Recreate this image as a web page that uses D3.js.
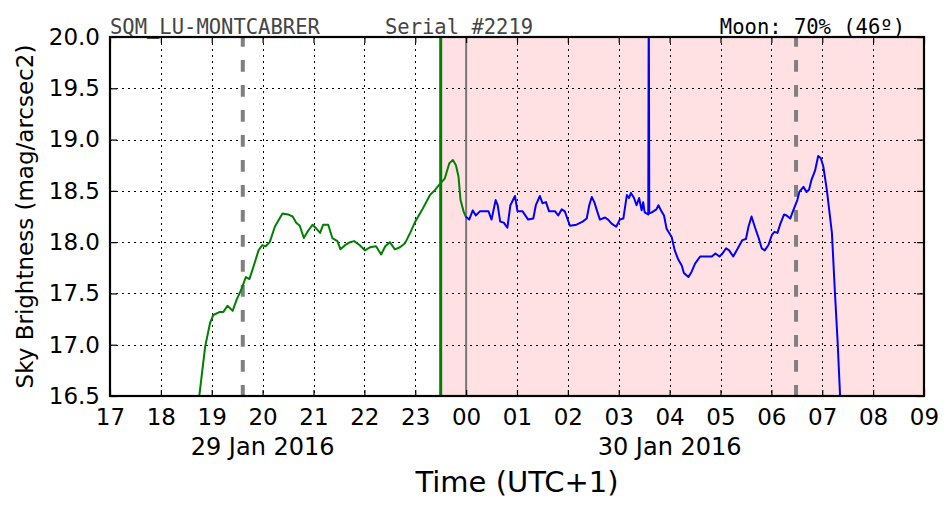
<!DOCTYPE html>
<html>
<head>
<meta charset="utf-8">
<script src="https://cdn.jsdelivr.net/npm/d3@7"></script>
<style>
  html, body { margin: 0; padding: 0; background: #fff; }
  svg { display: block; }
</style>
</head>
<body>
<svg id="chart" width="952" height="512"></svg>
<script>
// ---- Data (hours since 29 Jan 2016 00:00, UTC+1 local time) ----
const greenTimes = [18.70,18.755,18.87,18.966,19.03,19.16,19.23,19.31,19.41,19.49,19.59,19.67,19.74,19.82,19.92,19.99,20.06,20.14,20.24,20.39,20.50,20.59,20.66,20.73,20.81,20.88,20.98,21.06,21.13,21.19,21.29,21.37,21.47,21.53,21.62,21.72,21.80,21.91,22.01,22.11,22.23,22.33,22.41,22.50,22.60,22.70,22.80,22.90,23.00,23.13,23.29,23.39,23.49,23.58,23.67,23.74,23.80,23.85,23.89,23.95,23.99];
const greenValues = [16.30,16.50,16.98,17.21,17.29,17.32,17.32,17.38,17.33,17.44,17.55,17.66,17.64,17.76,17.92,17.97,17.96,18.00,18.15,18.28,18.27,18.25,18.19,18.16,18.04,18.10,18.17,18.13,18.09,18.17,18.17,18.04,18.01,17.93,17.97,18.00,18.01,17.97,17.92,17.95,17.96,17.88,17.96,18.00,17.93,17.95,17.99,18.09,18.20,18.31,18.46,18.51,18.57,18.62,18.77,18.80,18.75,18.64,18.41,18.30,18.25];

const blueTimes = [23.99,24.06,24.13,24.19,24.27,24.37,24.44,24.50,24.58,24.62,24.67,24.74,24.81,24.87,24.96,25.01,25.11,25.22,25.32,25.37,25.45,25.50,25.57,25.63,25.75,25.81,25.88,25.94,26.04,26.17,26.29,26.37,26.42,26.47,26.52,26.57,26.63,26.73,26.79,26.86,26.95,27.02,27.09,27.16,27.20,27.24,27.30,27.35,27.40,27.45,27.48,27.51,27.58,27.59,27.60,27.65,27.74,27.78,27.84,27.89,27.94,28.04,28.10,28.17,28.24,28.28,28.37,28.43,28.50,28.60,28.73,28.83,28.90,28.98,29.04,29.11,29.17,29.25,29.33,29.43,29.50,29.55,29.61,29.68,29.75,29.81,29.87,29.94,30.01,30.06,30.12,30.17,30.25,30.30,30.37,30.43,30.51,30.55,30.63,30.69,30.74,30.79,30.86,30.92,30.97,31.02,31.09,31.14,31.19,31.25,31.30,31.36];
const blueValues = [18.25,18.22,18.31,18.26,18.30,18.30,18.30,18.22,18.41,18.36,18.20,18.19,18.14,18.36,18.45,18.30,18.30,18.22,18.23,18.36,18.45,18.38,18.39,18.30,18.30,18.26,18.32,18.30,18.16,18.17,18.20,18.23,18.36,18.44,18.39,18.31,18.22,18.24,18.22,18.18,18.15,18.22,18.23,18.46,18.43,18.48,18.43,18.36,18.43,18.31,18.39,18.29,18.27,20.50,18.28,18.29,18.32,18.36,18.30,18.26,18.13,18.05,17.92,17.83,17.77,17.70,17.66,17.71,17.79,17.86,17.86,17.86,17.89,17.86,17.89,17.94,17.92,17.86,17.93,18.02,18.03,18.15,18.25,18.14,18.04,17.94,17.92,17.97,18.07,18.10,18.09,18.17,18.27,18.26,18.23,18.31,18.41,18.49,18.54,18.49,18.51,18.61,18.70,18.84,18.82,18.74,18.51,18.30,18.09,17.50,17.05,16.40];

const xDomainHours = [17, 33];
const yDomain = [16.5, 20.0];
const yTicks = [16.5, 17.0, 17.5, 18.0, 18.5, 19.0, 19.5, 20.0];
const nightStartHour = 23.5;      // green vertical line / start of shaded region
const midnightHour = 24.0;        // gray solid line
const dashedHours = [19.61, 30.485]; // gray dashed lines
const dateLabels = [{hour: 20, text: "29 Jan 2016"}, {hour: 28, text: "30 Jan 2016"}];
const titleLeft = "SQM_LU-MONTCABRER";
const titleMid = "Serial #2219";
const titleRight = "Moon: 70% (46º)";
const xLabel = "Time (UTC+1)";
const yLabel = "Sky Brightness (mag/arcsec2)";

// ---- Setup ----
const base = Date.UTC(2016, 0, 29);
const toDate = h => new Date(base + h * 3600e3);

const W = 952, H = 512;
const m = {left: 110, top: 37, right: 28, bottom: 116};
const iw = W - m.left - m.right, ih = H - m.top - m.bottom;

const svg = d3.select("#chart");
const g = svg.append("g").attr("transform", `translate(${m.left},${m.top})`);

const x = d3.scaleUtc().domain(xDomainHours.map(toDate)).range([0, iw]);
const y = d3.scaleLinear().domain(yDomain).range([ih, 0]);
const xTickDates = d3.range(xDomainHours[0], xDomainHours[1] + 1).map(toDate);
const fmtH = d3.utcFormat("%H");
const FONT = "'DejaVu Sans', sans-serif";

svg.append("defs").append("clipPath").attr("id", "clip")
  .append("rect").attr("width", iw).attr("height", ih);

// shaded night region
g.append("rect")
  .attr("x", x(toDate(nightStartHour)))
  .attr("y", 0)
  .attr("width", iw - x(toDate(nightStartHour)))
  .attr("height", ih)
  .attr("fill", "#ffe1e4");

// grid
const grid = g.append("g").attr("stroke", "#000").attr("stroke-width", 1).attr("stroke-dasharray", "2,4");
grid.selectAll("line.vx").data(xTickDates.slice(1, -1)).join("line")
  .attr("x1", d => Math.round(x(d)) + 0.5).attr("x2", d => Math.round(x(d)) + 0.5)
  .attr("y1", 0).attr("y2", ih);
grid.selectAll("line.hy").data(yTicks.slice(1, -1)).join("line")
  .attr("y1", d => Math.round(y(d)) + 0.5).attr("y2", d => Math.round(y(d)) + 0.5)
  .attr("x1", 0).attr("x2", iw);

// vertical markers
const plot = g.append("g").attr("clip-path", "url(#clip)");
plot.selectAll("line.dash").data(dashedHours).join("line")
  .attr("x1", d => x(toDate(d))).attr("x2", d => x(toDate(d)))
  .attr("y1", -2).attr("y2", ih)
  .attr("stroke", "#808080").attr("stroke-width", 4)
  .attr("stroke-dasharray", "11.7,13.3");
plot.append("line")
  .attr("x1", x(toDate(midnightHour))).attr("x2", x(toDate(midnightHour)))
  .attr("y1", 0).attr("y2", ih)
  .attr("stroke", "#777").attr("stroke-width", 2);
plot.append("line")
  .attr("x1", x(toDate(nightStartHour))).attr("x2", x(toDate(nightStartHour)))
  .attr("y1", 0).attr("y2", ih)
  .attr("stroke", "#008000").attr("stroke-width", 3);

// series
const line = d3.line().x(d => x(toDate(d[0]))).y(d => y(d[1]));
plot.append("path")
  .datum(d3.zip(greenTimes, greenValues))
  .attr("d", line).attr("fill", "none")
  .attr("stroke", "#008000").attr("stroke-width", 2).attr("stroke-linejoin", "round");
plot.append("path")
  .datum(d3.zip(blueTimes, blueValues))
  .attr("d", line).attr("fill", "none")
  .attr("stroke", "#0000ff").attr("stroke-width", 2).attr("stroke-linejoin", "round");

// axes
const xAxis = d3.axisBottom(x).tickValues(xTickDates).tickFormat(fmtH).tickSizeInner(-6).tickSizeOuter(0).tickPadding(13);
const xAxisTop = d3.axisTop(x).tickValues(xTickDates).tickFormat("").tickSizeInner(-6).tickSizeOuter(0);
const yAxis = d3.axisLeft(y).tickValues(yTicks).tickFormat(d3.format(".1f")).tickSizeInner(-7).tickSizeOuter(0).tickPadding(10);
const yAxisRight = d3.axisRight(y).tickValues(yTicks).tickFormat("").tickSizeInner(-7).tickSizeOuter(0);

function styleAxis(sel) {
  sel.select(".domain").remove();
  sel.selectAll(".tick line").attr("stroke", "#000").attr("stroke-width", 1.2);
  sel.selectAll("text").attr("fill", "#000").style("font-family", FONT).style("font-size", "23px");
}
g.append("g").attr("transform", `translate(0,${ih})`).call(xAxis).call(styleAxis);
g.append("g").call(xAxisTop).call(styleAxis);
g.append("g").call(yAxis).call(styleAxis);
g.append("g").attr("transform", `translate(${iw},0)`).call(yAxisRight).call(styleAxis);

// frame
g.append("rect").attr("width", iw).attr("height", ih)
  .attr("fill", "none").attr("stroke", "#000").attr("stroke-width", 2.2);

// date labels
g.selectAll("text.date").data(dateLabels).join("text")
  .attr("x", d => x(toDate(d.hour))).attr("y", ih + 59)
  .attr("text-anchor", "middle")
  .style("font-family", FONT).style("font-size", "24px")
  .text(d => d.text);

// axis titles
svg.append("text")
  .attr("x", m.left + iw / 2).attr("y", 492)
  .attr("text-anchor", "middle")
  .style("font-family", FONT).style("font-size", "29px")
  .text(xLabel);
svg.append("text")
  .attr("transform", `translate(33,${m.top + ih / 2}) rotate(-90)`)
  .attr("text-anchor", "middle")
  .style("font-family", FONT).style("font-size", "23px")
  .text(yLabel);

// header texts
const MONO = "'DejaVu Sans Mono', monospace";
svg.append("text").attr("x", 110).attr("y", 33.5)
  .style("font-family", MONO).style("font-size", "20.5px").attr("fill", "#444").text(titleLeft);
svg.append("text").attr("x", 385).attr("y", 33.5)
  .style("font-family", MONO).style("font-size", "20.5px").attr("fill", "#444").text(titleMid);
svg.append("text").attr("x", 905).attr("y", 33.5).attr("text-anchor", "end")
  .style("font-family", MONO).style("font-size", "20.5px").attr("fill", "#000").text(titleRight);
</script>
</body>
</html>
